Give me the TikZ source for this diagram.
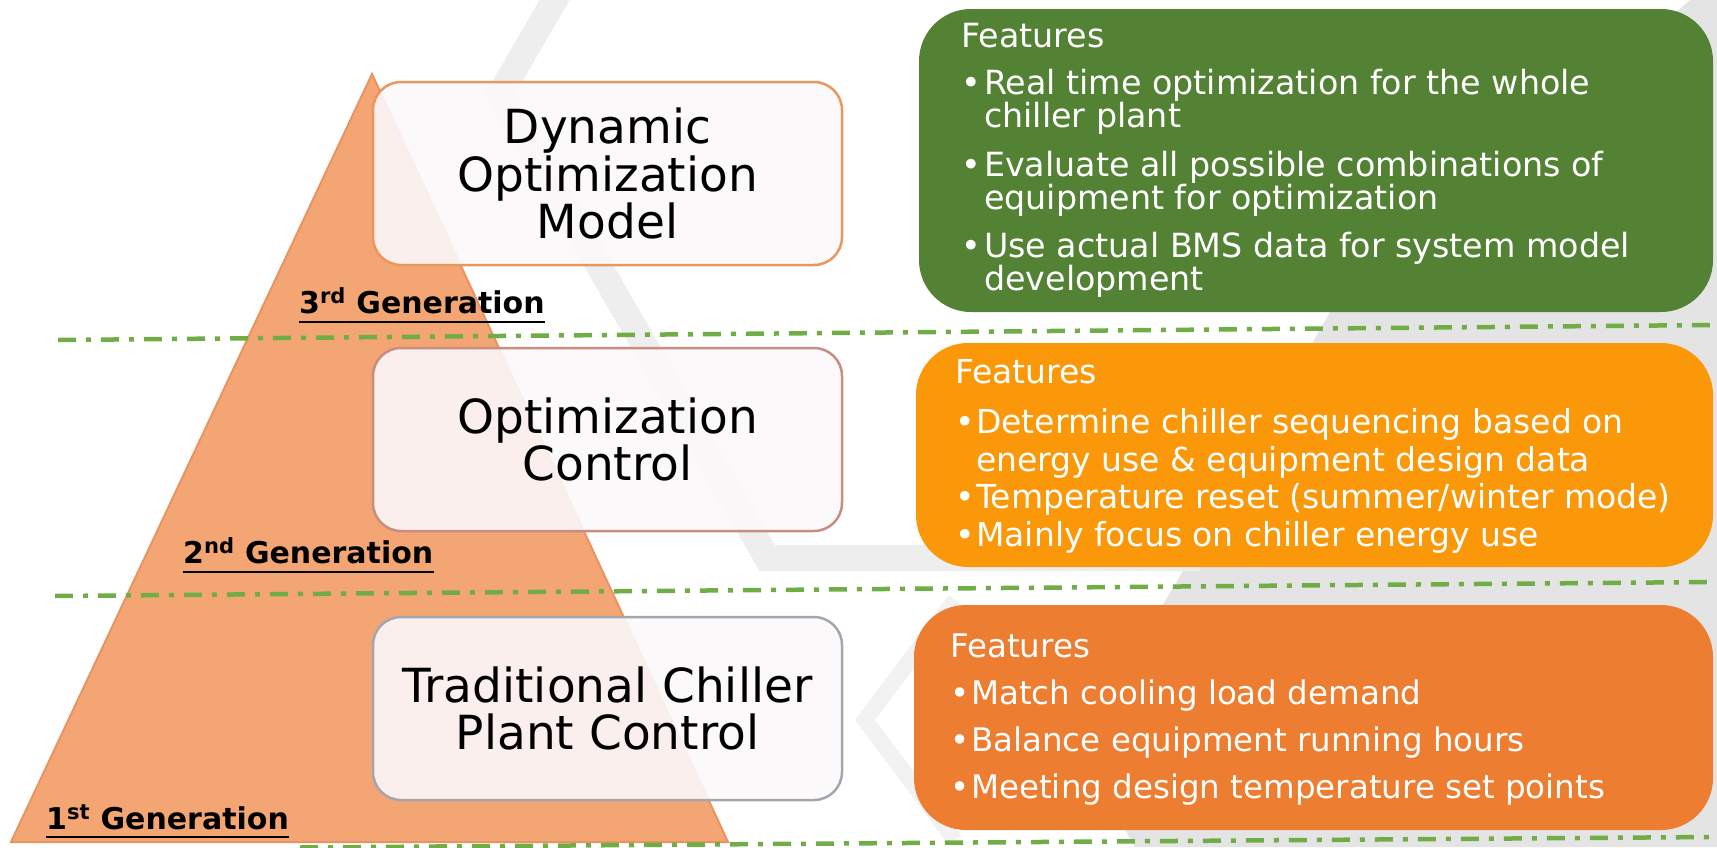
\documentclass[tikz,border=0pt]{standalone}
\usepackage{fontspec}
\setmainfont{DejaVu Sans}
\usepackage{tikz}

\definecolor{pyramidfill}{RGB}{243,166,115}
\definecolor{pyramidedge}{RGB}{232,148,98}
\definecolor{boxfill}{RGB}{251,248,250}
\definecolor{edgethree}{RGB}{233,150,95}
\definecolor{edgetwo}{RGB}{200,140,130}
\definecolor{edgeone}{RGB}{165,165,175}
\definecolor{featgreen}{RGB}{84,130,53}
\definecolor{featamber}{RGB}{250,152,10}
\definecolor{featorange}{RGB}{237,125,49}
\definecolor{sepgreen}{RGB}{112,173,71}
\definecolor{bgband}{RGB}{238,238,238}
\definecolor{bgchevron}{RGB}{242,242,242}
\definecolor{bgfill}{RGB}{228,228,228}

\newcommand{\featbullet}[1]{\makebox[#1][l]{•}}
\newcommand{\feathang}[1]{\hspace*{#1}}

\begin{document}
\begin{tikzpicture}[x=1pt, y=-1pt]
    \tikzstyle{genbox}=[draw, line width=2.5pt, rounded corners=28pt, fill=boxfill, fill opacity=0.9, text opacity=1, minimum width=469pt, minimum height=183pt, align=center, font=\fontsize{47}{47.5}\selectfont]
    \tikzstyle{featbox}=[rounded corners=52pt, inner sep=0pt]
    \tikzstyle{feattext}=[anchor=base west, inner sep=0pt, align=left, text=white]
    \tikzstyle{gen}=[anchor=base west, inner sep=0pt, font=\bfseries\fontsize{30}{30}\selectfont]
    \tikzstyle{sepline}=[sepgreen, line width=4.5pt, dash pattern=on 18pt off 10pt on 5pt off 10pt]

    \useasboundingbox (0,0) rectangle (1717,847);

    % Background
    \fill[bgfill] (1690,0) -- (1330,312) -- (1176,583) -- (1077,744) -- (1135,847) -- (1717,847) -- (1717,0) -- cycle;
    \draw[bgband, line width=26pt] (575,-35) -- (500,94) -- (767,558) -- (1200,558);
    \draw[bgchevron, line width=16pt] (955,600) -- (865,720) -- (955,840);

    % Pyramid
    \filldraw[fill=pyramidfill, draw=pyramidedge, line width=2pt] (372,74) -- (728,842) -- (11,842) -- cycle;

    % Separators
    \coordinate (sep1w) at (58,340);
    \coordinate (sep1e) at (1712,325);
    \coordinate (sep2w) at (55,596);
    \coordinate (sep2e) at (1712,582);
    \coordinate (sep3w) at (300,847.5);
    \coordinate (sep3e) at (1712,837);
    \draw[sepline] (sep1w) -- (sep1e);
    \draw[sepline] (sep2w) -- (sep2e);
    \draw[sepline] (sep3w) -- (sep3e);

    % Generations
    \node[genbox, draw=edgethree] (dyn) at (607.5,173.5) {Dynamic\\Optimization\\Model};
    \node[genbox, draw=edgetwo] (opt) at (607.5,439.5) {Optimization\\Control};
    \node[genbox, draw=edgeone] (trad) at (607.5,708.5) {Traditional Chiller\\Plant Control};

    \node[gen] (gen3) at (299,313) {3\textsuperscript{rd} Generation};
    \node[gen] (gen2) at (183,563) {2\textsuperscript{nd} Generation};
    \node[gen] (gen1) at (46,829) {1\textsuperscript{st} Generation};
    \draw[line width=2.5pt] ([yshift=-9pt]gen3.base west) -- ([yshift=-9pt]gen3.base east);
    \draw[line width=2.5pt] ([yshift=-9pt]gen2.base west) -- ([yshift=-9pt]gen2.base east);
    \draw[line width=2.5pt] ([yshift=-8pt]gen1.base west) -- ([yshift=-8pt]gen1.base east);

    % Features
    \node[featbox, fill=featgreen, minimum width=794pt, minimum height=303pt] (fgreen) at (1316,160.5) {};
    \node[featbox, fill=featamber, minimum width=797pt, minimum height=224pt] (famber) at (1314.5,455) {};
    \node[featbox, fill=featorange, minimum width=799pt, minimum height=225pt] (forange) at (1313.5,717.5) {};

    \node[feattext, font=\fontsize{33.3}{33}\selectfont] (tgreen) at (961,290) {Features\\[14pt]
        \featbullet{23pt}Real time optimization for the whole\\
        \feathang{23pt}chiller plant\\[16pt]
        \featbullet{23pt}Evaluate all possible combinations of\\
        \feathang{23pt}equipment for optimization\\[15pt]
        \featbullet{23pt}Use actual BMS data for system model\\
        \feathang{23pt}development};
    \node[feattext, font=\fontsize{33}{37.5}\selectfont] (tamber) at (955,546) {Features\\[12.5pt]
        \featbullet{21pt}Determine chiller sequencing based on\\
        \feathang{21pt}energy use \& equipment design data\\
        \featbullet{21pt}Temperature reset (summer/winter mode)\\
        \featbullet{21pt}Mainly focus on chiller energy use};
    \node[feattext, font=\fontsize{32.5}{47}\selectfont] (torange) at (950,798) {Features\\
        \featbullet{21pt}Match cooling load demand\\
        \featbullet{21pt}Balance equipment running hours\\
        \featbullet{21pt}Meeting design temperature set points};
\end{tikzpicture}
\end{document}
